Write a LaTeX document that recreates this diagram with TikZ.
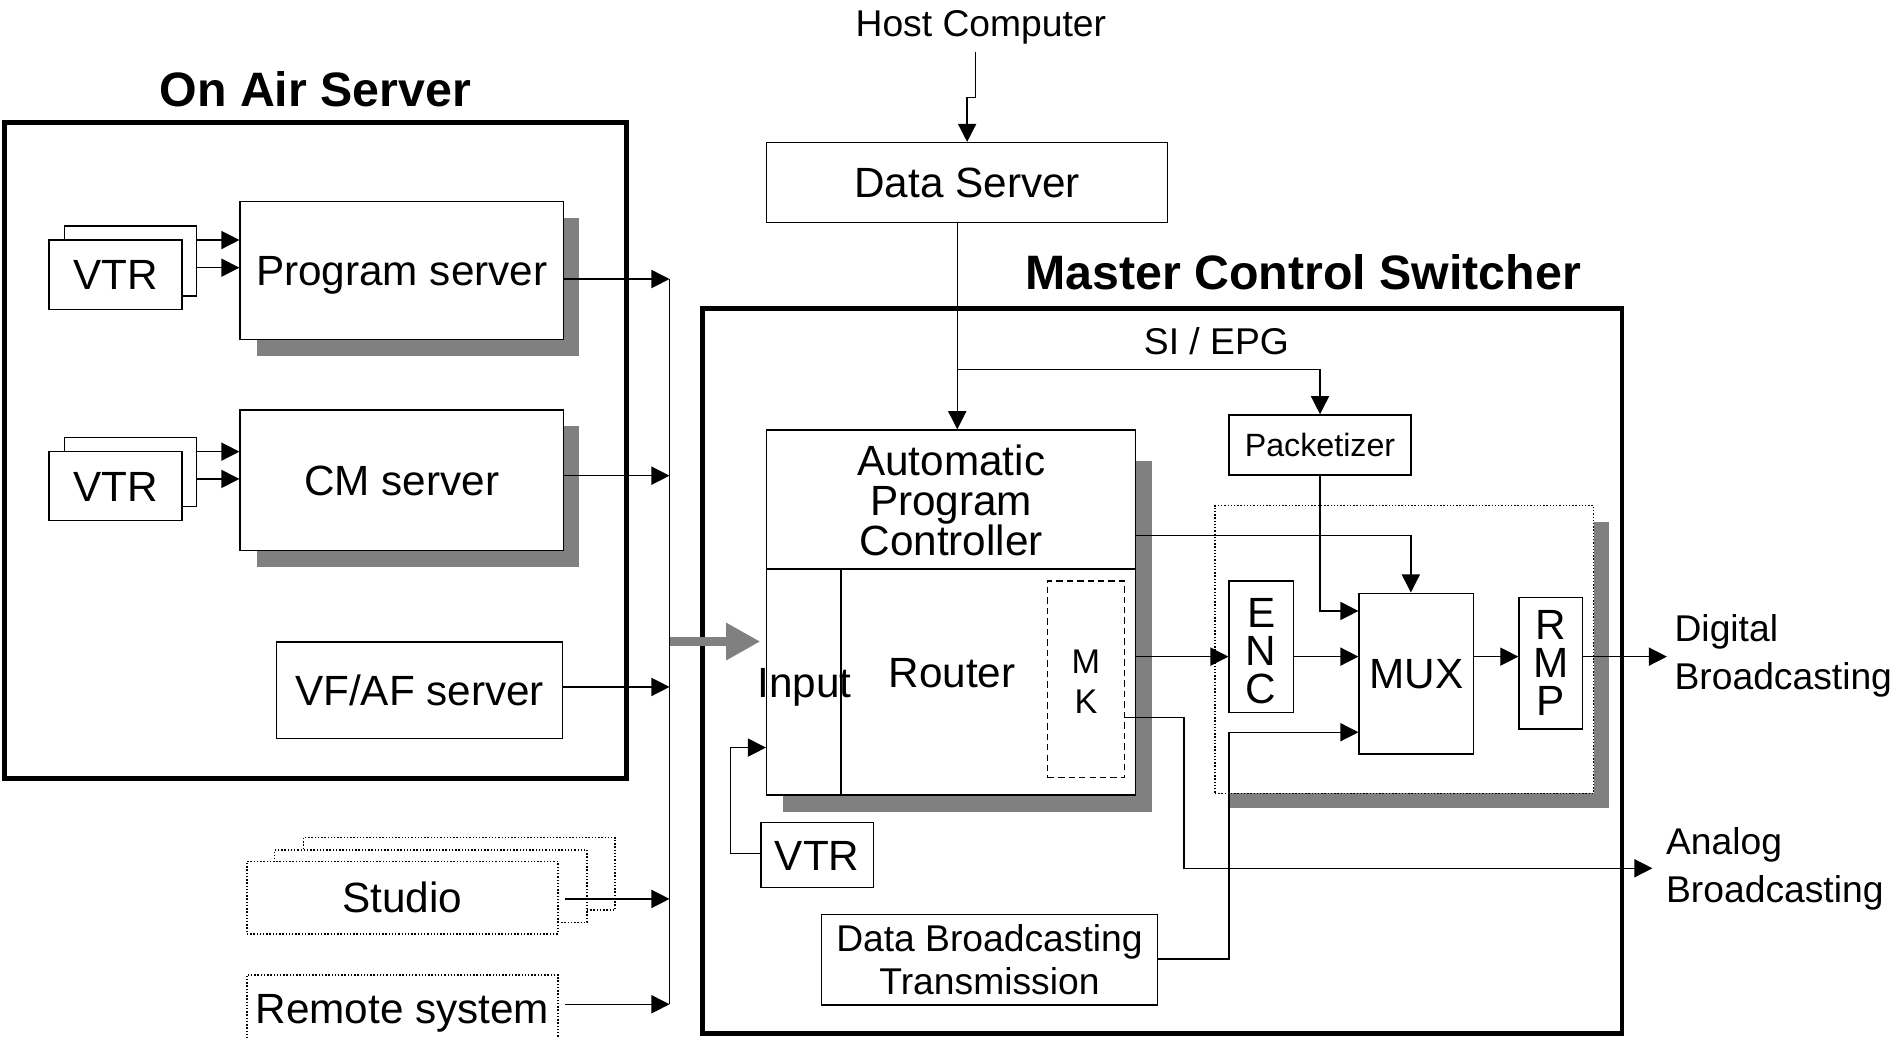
\documentclass[tikz,border=0pt]{standalone}
\usepackage{fontspec}
\setmainfont{Liberation Sans}
\usetikzlibrary{fit,arrows.meta,calc}
\definecolor{shadowgray}{HTML}{808080}
\begin{document}
\begin{tikzpicture}[x=0.6pt,y=-0.6pt,
  bx/.style={draw, line width=0.7pt, fill=white, inner sep=0pt},
  thickbox/.style={draw, line width=2.4pt, inner sep=0pt},
  dotbox/.style={draw, line width=0.7pt, dash pattern=on 0.7pt off 0.9pt, fill=white, inner sep=0pt},
  dashbox/.style={draw, line width=0.7pt, dash pattern=on 3.2pt off 2pt, inner sep=0pt},
  conn/.style={line width=0.7pt},
  arr/.style={conn, -{Triangle[length=9pt,width=9pt]}},
  bigarr/.style={draw=shadowgray, line width=4.2pt, -{Triangle[length=17pt,width=17.5pt]}},
  fL/.style={font=\fontsize{21}{23}\selectfont, text height=15pt, text depth=0pt, inner sep=0pt},
  fLp/.style={font=\fontsize{21}{23}\selectfont},
  fM/.style={font=\fontsize{18.5}{21.6}\selectfont},
  fS/.style={font=\fontsize{16}{18}\selectfont, text height=11.5pt, text depth=0pt, inner sep=0pt},
  fT/.style={font=\bfseries\fontsize{24}{26}\selectfont},
  lbl/.style={inner sep=0pt, anchor=base},
  stack/.style={align=center, inner sep=0pt},
]
\useasboundingbox (0,0) rectangle (1568,859);

% ---------------- On Air Server ----------------
\node[thickbox, fit={(3.7,101.6) (518.5,644.3)}] (oas) {};
\node[fT, lbl] (oast) at (261,88) {On Air Server};

\fill[shadowgray] (212.9,180.2) rectangle (479.7,294.7);
\fill[shadowgray] (212.9,352.7) rectangle (479.7,469.1);

\node[bx, fit={(198.8,167) (466.4,281)}] (ps) {};
\node[fL] (pst) at (ps.center) {Program server};
\node[bx, fit={(53.6,187.1) (162.6,245.2)}] (v1b) {};
\node[bx, fit={(40.7,198.7) (150.8,256.1)}] (v1f) {};
\node[fL] (v1t) at (v1f.center) {VTR};
\draw[arr] (v1b.east |- 0,198.7) -- (ps.west |- 0,198.7);
\draw[arr] (v1b.east |- 0,221.6) -- (ps.west |- 0,221.6);

\node[bx, fit={(198.8,339.4) (466.4,455.9)}] (cm) {};
\node[fL] (cmt) at (cm.center) {CM server};
\node[bx, fit={(53.6,362.3) (162.6,419.4)}] (v2b) {};
\node[bx, fit={(40.7,373.9) (150.8,431)}] (v2f) {};
\node[fL] (v2t) at (v2f.center) {VTR};
\draw[arr] (v2b.east |- 0,373.9) -- (cm.west |- 0,373.9);
\draw[arr] (v2b.east |- 0,396.5) -- (cm.west |- 0,396.5);

\node[bx, fit={(229.1,531.4) (465.6,611.5)}] (vf) {};
\node[fL] (vft) at (vf.center) {VF/AF server};

% ---------------- Studio / Remote ----------------
\node[dotbox, fit={(251.3,693.4) (509.2,753.3)}] (st3) {};
\node[dotbox, fit={(227.3,703.6) (486,763.5)}] (st2) {};
\node[dotbox, fit={(204.4,713.3) (461.9,773.1)}] (st1) {};
\node[fL] (stt) at (st1.center) {Studio};
\node[dotbox, fit={(204.4,807.1) (461.9,862)}] (rs) {};
\node[fL] (rst) at (rs.center) {Remote system};

% ---------------- Bus ----------------
\coordinate (b1) at (554.3,231);
\coordinate (b2) at (554.3,393.8);
\coordinate (bg) at (554.3,531.1);
\coordinate (b3) at (554.3,568.7);
\coordinate (b4) at (554.3,744.2);
\coordinate (b5) at (554.3,831.4);
\draw[conn] (b1) -- (b5);
\draw[arr] (ps.east |- b1) -- (b1);
\draw[arr] (cm.east |- b2) -- (b2);
\draw[arr] (vf.east |- b3) -- (b3);
\draw[arr, shorten <=3.4pt] (st1.east |- b4) -- (b4);
\draw[arr, shorten <=3.4pt] (rs.east |- b5) -- (b5);

% ---------------- Host / Data Server ----------------
\node[fM, lbl] (host) at (812,30.4) {Host Computer};
\node[bx, fit={(634.7,118.1) (966.6,184.3)}] (ds) {};
\node[fL] (dst) at (ds.center) {Data Server};
\draw[arr, shorten <=3.5pt] (host.south -| 807.4,0) |- (ds.north |- 0,80.9) -- (ds.north);

% ---------------- Master Control Switcher ----------------
\node[thickbox, fit={(581.5,255.2) (1342.8,855.4)}] (mcs) {};
\node[fT, lbl, anchor=base west] (mcst) at (848.5,240) {Master Control Switcher};

\fill[shadowgray] (648,381.6) rectangle (953.4,671.9);
\node[bx, fit={(634.7,356) (940.2,471)}] (apc) {};
\node[stack, font=\fontsize{21}{19.8}\selectfont] (apct) at ([yshift=-0.6pt]apc.center) {Automatic\\Program\\Controller};
\node[bx, fit={(634.7,471) (940.2,658.1)}] (rt) {};
\node[bx, fit={(634.7,471) (696.2,658.1)}] (inp) {};
\node[fLp, lbl] (inpt) at (666.2,577.5) {Input};
\node[fLp, lbl] (rtt) at (788.1,569) {Router};
\node[dashbox, fit={(867.3,481) (930.8,643.7)}] (mk) {};
\node[stack, font=\fontsize{17}{19.8}\selectfont] (mkt) at ([yshift=-1.1pt]mk.center) {M\\K};

\draw[bigarr, shorten >=2.8pt] (bg) -- (inp.west |- bg);

\node[bx, fit={(630.1,681) (722.9,734.6)}] (v3) {};
\node[fL] (v3t) at (v3.center) {VTR};
\draw[arr] (v3.west |- 0,706.4) -| (604.9,618.9) -- (inp.west |- 0,618.9);

\node[bx, fit={(680,756.9) (958.3,832)}] (dbt) {};
\node[stack, fM] (dbtt) at (dbt.center) {Data Broadcasting\\Transmission};

\node[bx, fit={(1017.6,343.5) (1168,393.2)}] (pk) {};
\node[fS] (pkt) at (pk.center) {Packetizer};

\coordinate (si) at (792.5,305.7);
\draw[arr] (ds.south -| si) -- (apc.north -| si);
\draw[arr] (si) -| (pk.north);
\node[fM, lbl] (sit) at (1007,293.3) {SI / EPG};

\fill[shadowgray] (1017.6,432.4) rectangle (1331.8,669.1);
\node[dotbox, fit={(1005.8,418.6) (1319.2,656.7)}] (grp) {};

\node[bx, fit={(1017.6,480.9) (1070.6,589.7)}] (enc) {};
\node[stack, font=\fontsize{21}{18.8}\selectfont] (enct) at ([yshift=-2.2pt]enc.center) {E\\N\\C};
\node[bx, fit={(1125.2,491.1) (1219.9,624.1)}] (mux) {};
\node[fL] (muxt) at (mux.center) {MUX};
\node[bx, fit={(1257.6,494.5) (1310.2,603.4)}] (rmp) {};
\node[stack, font=\fontsize{21}{18.8}\selectfont] (rmpt) at (rmp.center) {R\\M\\P};

\draw[arr] (rt.east |- 0,543.6) -- (enc.west |- 0,543.6);
\draw[arr] (enc.east |- 0,543.6) -- (mux.west |- 0,543.6);
\draw[arr] (mux.east |- 0,543.6) -- (rmp.west |- 0,543.6);
\coordinate (dg) at (1380,543.6);
\draw[arr] (rmp.east |- dg) -- (dg);
\draw[arr] (apc.east |- 0,443.4) -| (mux.north -| 1168,0);
\draw[arr] (pk.south) |- (mux.west |- 0,505.8);
\draw[arr] (dbt.east |- 0,793.9) -| (1017.6,606.2) -- (mux.west |- 0,606.2);
\coordinate (an) at (1368,718.8);
\draw[arr] (mk.east |- 0,594.1) -| (980.3,718.8) -- (an);

\node[fM, lbl, anchor=base west] (dig1) at (1386,531) {Digital};
\node[fM, lbl, anchor=base west] (dig2) at (1386,571) {Broadcasting};
\node[fM, lbl, anchor=base west] (ana1) at (1379,707) {Analog};
\node[fM, lbl, anchor=base west] (ana2) at (1379,747) {Broadcasting};
\end{tikzpicture}
\end{document}
